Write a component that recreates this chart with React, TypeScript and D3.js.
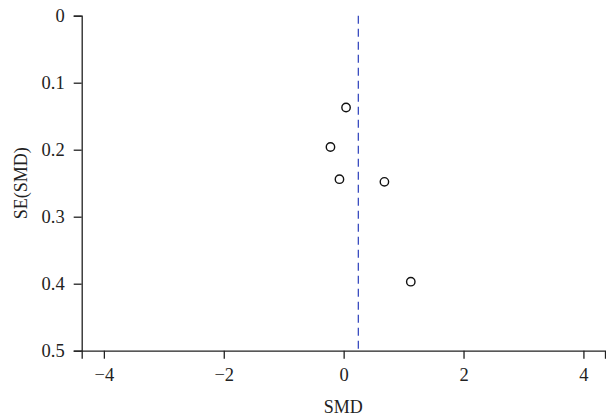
import React, { useEffect, useRef } from "react";
import * as d3 from "d3";

// study estimates
const smd = [0.04, -0.22, -0.07, 0.68, 1.12];
const seSmd = [0.137, 0.196, 0.244, 0.248, 0.397];
const pooledSmd = 0.245;
const xTicks = [-4, -2, 0, 2, 4];
const yTicks = [0, 0.1, 0.2, 0.3, 0.4, 0.5];

const width = 606;
const height = 419;
const font = "'Liberation Serif', 'DejaVu Serif', serif";

const FunnelPlot = () => {
    const svgRef = useRef(null);

    useEffect(() => {
        const svg = d3.select(svgRef.current);
        svg.selectAll("*").remove();

        const x = d3.scaleLinear().domain([-4.37, 4.36]).range([81.7, 605]);
        const y = d3.scaleLinear().domain([0, 0.5]).range([15.7, 350.7]);

        // y axis
        const yAxis = svg
            .append("g")
            .attr("transform", `translate(${x.range()[0]},0)`)
            .call(
                d3
                    .axisLeft(y)
                    .tickValues(yTicks)
                    .tickSize(8)
                    .tickPadding(9)
                    .tickFormat((d) => (d === 0 ? "0" : d3.format(".1f")(d as number)))
            );

        // x axis
        const xAxis = svg
            .append("g")
            .attr("transform", `translate(0,${y(0.5)})`)
            .call(
                d3
                    .axisBottom(x)
                    .tickValues(xTicks)
                    .tickSize(8)
                    .tickPadding(9)
                    .tickFormat((d) => d3.format("")(d as number).replace("-", "\u2212"))
            );

        [yAxis, xAxis].forEach((g) => {
            g.select(".domain").attr("stroke", "#222").attr("stroke-width", 1.3);
            g.selectAll(".tick line").attr("stroke", "#222").attr("stroke-width", 1.3);
            g.selectAll(".tick text")
                .attr("font-family", font)
                .attr("font-size", 18.5)
                .attr("fill", "#222");
        });

        // pooled estimate
        svg.append("line")
            .attr("x1", x(pooledSmd))
            .attr("x2", x(pooledSmd))
            .attr("y1", y(0))
            .attr("y2", y(0.5))
            .attr("stroke", "#3a4cc0")
            .attr("stroke-width", 1.3)
            .attr("stroke-dasharray", "8,5");

        svg.append("g")
            .selectAll("circle")
            .data(smd)
            .enter()
            .append("circle")
            .attr("cx", (d) => x(d))
            .attr("cy", (_d, i) => y(seSmd[i]))
            .attr("r", 4.2)
            .attr("fill", "white")
            .attr("stroke", "#111")
            .attr("stroke-width", 1.4);

        svg.append("text")
            .attr("x", (x.range()[0] + x.range()[1]) / 2)
            .attr("y", 413)
            .attr("text-anchor", "middle")
            .attr("font-family", font)
            .attr("font-size", 18)
            .attr("fill", "#222")
            .text("SMD");

        svg.append("text")
            .attr("transform", `translate(27,${(y(0) + y(0.5)) / 2}) rotate(-90)`)
            .attr("text-anchor", "middle")
            .attr("font-family", font)
            .attr("font-size", 18)
            .attr("fill", "#222")
            .text("SE(SMD)");
    }, []);

    return (
        <svg
            ref={svgRef}
            width={width}
            height={height}
            style={{ position: "absolute", left: 0, top: 0, background: "white" }}
        ></svg>
    );
};

export default function App() {
    return <FunnelPlot />;
}
